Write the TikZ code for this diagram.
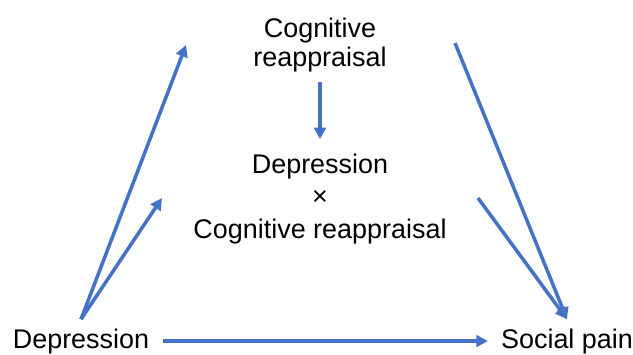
\documentclass[tikz,border=0pt]{standalone}
\usepackage{fontspec}
\setmainfont{Liberation Sans}
\usetikzlibrary{arrows.meta,positioning}
\definecolor{pathblue}{RGB}{68,114,196}

\begin{document}
\begin{tikzpicture}[
    x=0.03cm, y=-0.03cm,
    var/.style={align=center, font=\fontsize{23}{25.5}\selectfont, inner sep=2pt},
    arrow/.style={-{Triangle[length=10pt, width=10pt]}, line width=3pt, draw=pathblue}
]
    \useasboundingbox (0,0) rectangle (633,354);

    \node[var, anchor=base] (dep) at (81,348) {Depression};
    \node[var, anchor=base] (pain) at (567,348) {Social pain};
    \node[var, anchor=north] (cr) at (320,15) {Cognitive\\reappraisal};
    \node[var, anchor=north, font=\fontsize{23}{28}\selectfont] (inter) at (320,151) {Depression\\×\\Cognitive reappraisal};

    \coordinate[above=0.2cm of dep.north] (depout);
    \coordinate[above=0.2cm of pain.north] (painin);
    \coordinate (crin) at (186,45);
    \coordinate (crout) at (455,43);
    \coordinate (interin) at (162,198);
    \coordinate (interout) at (478,198);

    \draw[arrow] (depout) -- (crin);
    \draw[arrow] (depout) -- (interin);
    \draw[arrow] (crout) -- (painin);
    \draw[arrow] (interout) -- (painin);
    \draw[arrow, shorten <=6pt, shorten >=10pt] (cr) -- (inter);
    \draw[arrow, shorten <=10pt, shorten >=9pt] (dep) -- (pain);
\end{tikzpicture}
\end{document}
